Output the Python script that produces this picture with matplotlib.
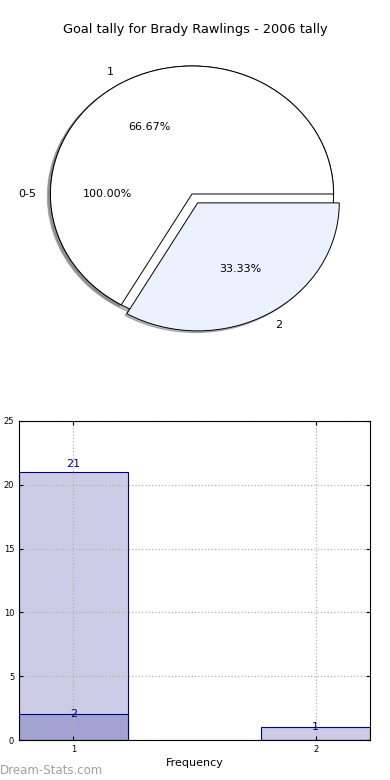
import numpy as np
import matplotlib
matplotlib.use("Agg")
import matplotlib.pyplot as plt

# data
title = "Goal tally for Brady Rawlings - 2006 tally"
outer_labels = ["0-5"]
outer_values = [100]
inner_labels = ["1", "2"]
inner_values = [2, 1]
inner_colors = ["#ffffff", "#ebf1fe"]

bar_x = [1, 2]
bar_counts = [21, 1]
bar_sub = [2, 0]
bar_ticks = [1, 2]

fig = plt.figure(figsize=(3.9, 7.8), dpi=100)
fig.text(0.5, 1 - 30 / 780, title, ha="center", va="center", fontsize=9.3)

# pie part
ax1 = fig.add_axes([15 / 390, 1 - 354 / 780, 354 / 390, 320 / 780])
wp = dict(edgecolor="black", linewidth=0.7)
ax1.pie(outer_values, labels=outer_labels, colors=["white"], autopct="%.2f%%",
        shadow=dict(ox=-0.016, oy=-0.012, shade=0.6, alpha=0.45),
        startangle=0, wedgeprops=wp, textprops=dict(fontsize=8))
ax1.pie(inner_values, labels=inner_labels, colors=inner_colors, autopct="%.2f%%",
        explode=[0, 0.08], shadow=dict(ox=-0.01, oy=-0.01, shade=0.6, alpha=0.45),
        startangle=0, wedgeprops=wp, textprops=dict(fontsize=8))
ax1.set_aspect("auto")
ax1.set_xlim(-1.25, 1.25)
ax1.set_ylim(-1.25, 1.25)
ax1.axis("off")

# bar part
ax2 = fig.add_axes([19 / 390, 40 / 780, 351 / 390, 319 / 780])
w = 0.45
ax2.bar(bar_x, bar_counts, width=w, color="#cccce6", edgecolor="#000080",
        linewidth=0.8, zorder=0.5)
ax2.bar(bar_x, bar_sub, width=w, color="#a3a3d1", edgecolor="#000080",
        linewidth=0.8, zorder=0.6)
for x, h in zip(bar_x, bar_counts):
    ax2.text(x, h * 1.03, str(h), ha="center", va="center", fontsize=8,
             color="#000080", zorder=5)
for x, h in zip(bar_x, bar_sub):
    if h > 0:
        ax2.text(x, h * 1.03, str(h), ha="center", va="center", fontsize=8,
                 color="#000080", zorder=5)

ax2.set_xlim(bar_x[0] - w / 2, bar_x[-1] + w / 2)
ax2.set_ylim(0, 25)
ax2.set_xticks(bar_ticks)
ax2.set_yticks(np.arange(0, 26, 5))
ax2.tick_params(direction="in", length=3, labelsize=6, top=True, right=True)
ax2.set_axisbelow("line")
ax2.grid(True, linestyle=":", color="#b0b0b0", linewidth=0.9)
ax2.set_xlabel("Frequency", fontsize=8, labelpad=3)
ax2.set_ylabel("Goal Tally", fontsize=7)
ax2.yaxis.set_label_coords(-0.05, 0.5)

fig.text(0.0, 1 - 770 / 780, "Dream-Stats.com", ha="left", va="center",
         fontsize=8.5, color="#a0a0a0")

fig.savefig("out.png", dpi=100)
